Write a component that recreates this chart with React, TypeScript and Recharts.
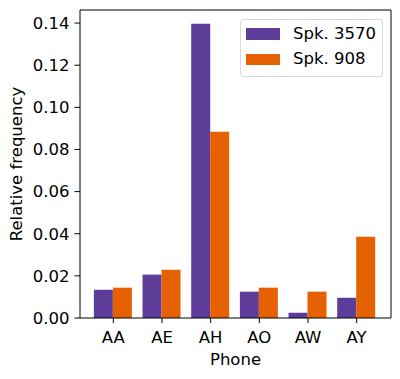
import React from 'react';
import { BarChart, Bar, XAxis, YAxis, Legend, Label } from 'recharts';

const categories = ['AA', 'AE', 'AH', 'AO', 'AW', 'AY'];
const spk3570 = [0.0134, 0.0206, 0.1397, 0.0125, 0.0025, 0.0096];
const spk908 = [0.0144, 0.0229, 0.0884, 0.0144, 0.0125, 0.0386];
const yTicks = [0, 0.02, 0.04, 0.06, 0.08, 0.1, 0.12, 0.14];
const seriesNames = ['Spk. 3570', 'Spk. 908'];
const colors = ['#5e3c99', '#e66101'];

const data = categories.map((c, i) => ({ phone: c, a: spk3570[i], b: spk908[i] }));

const FONT = 'DejaVu Sans';
const FS = 16.5;

const LegendBox = () => (
  <div
    style={{
      width: 143,
      height: 58,
      border: '1px solid #d9d9d9',
      borderRadius: 3,
      background: 'rgba(255,255,255,0.8)',
      fontFamily: FONT,
      fontSize: FS,
      color: '#000',
      boxSizing: 'border-box',
      position: 'relative',
    }}
  >
    {seriesNames.map((n, i) => (
      <div key={n} style={{ position: 'absolute', left: 5, top: 8.5 + i * 25.4, display: 'flex', alignItems: 'center', height: 12 }}>
        <div style={{ width: 34, height: 11.5, background: colors[i] }} />
        <span style={{ marginLeft: 13.5, lineHeight: '12px', whiteSpace: 'nowrap' }}>{n}</span>
      </div>
    ))}
  </div>
);

const XTick = (props: any) => {
  const { x, y, payload } = props;
  return (
    <text x={x} y={y} dy={11.6} textAnchor="middle" fontSize={FS} fontFamily={FONT} fill="#000">
      {payload.value}
    </text>
  );
};

const YTick = (props: any) => {
  const { x, y, payload } = props;
  return (
    <text x={x} y={y} dy={5.8} textAnchor="end" fontSize={FS} fontFamily={FONT} fill="#000">
      {Number(payload.value).toFixed(2)}
    </text>
  );
};

export default function App() {
  return (
    <div style={{ position: 'absolute', left: 0, top: 0, width: 400, height: 379, background: '#fff' }}>
      <BarChart
        width={400}
        height={379}
        data={data}
        margin={{ top: 9, right: 8, bottom: 31, left: 20 }}
        barCategoryGap="10%"
        barGap={0}
        style={{ fontFamily: FONT }}
      >
        <XAxis
          dataKey="phone"
          xAxisId="main"
          height={30}
          padding={{ left: 9, right: 10 }}
          tickSize={5}
          tickMargin={8}
          stroke="#000"
          tick={<XTick />}
          tickLine={{ stroke: '#000' }}
          axisLine={{ stroke: '#000' }}
        >
          <Label
            content={(props: any) => {
              const vb = props.viewBox;
              return (
                <text x={vb.x + vb.width / 2} y={vb.y + 47} textAnchor="middle" fontSize={FS} fontFamily={FONT} fill="#000">
                  Phone
                </text>
              );
            }}
          />
        </XAxis>
        <XAxis dataKey="phone" xAxisId="top" orientation="top" height={1} tick={false} tickLine={false} axisLine={{ stroke: '#000' }} />
        <YAxis
          yAxisId="main"
          width={60}
          domain={[0, 0.1462]}
          ticks={yTicks}
          allowDataOverflow
          tickSize={5.5}
          tickMargin={5}
          stroke="#000"
          tick={<YTick />}
          tickLine={{ stroke: '#000' }}
          axisLine={{ stroke: '#000' }}
        >
          <Label
            content={() => (
              <text x={22} y={164} textAnchor="middle" fontSize={FS} fontFamily={FONT} fill="#000" transform="rotate(-90, 22, 164)">
                Relative frequency
              </text>
            )}
          />
        </YAxis>
        <YAxis yAxisId="right" orientation="right" width={1} tick={false} tickLine={false} axisLine={{ stroke: '#000' }} domain={[0, 0.1462]} />
        <Legend
          layout="vertical"
          align="center"
          verticalAlign="middle"
          content={() => <LegendBox />}
          wrapperStyle={{ position: 'absolute', left: 239.5, top: 18.5, width: 143, height: 58 }}
        />
        <Bar dataKey="a" name={seriesNames[0]} fill={colors[0]} xAxisId="main" yAxisId="main" isAnimationActive={false} />
        <Bar dataKey="b" name={seriesNames[1]} fill={colors[1]} xAxisId="main" yAxisId="main" isAnimationActive={false} />
      </BarChart>
    </div>
  );
}
